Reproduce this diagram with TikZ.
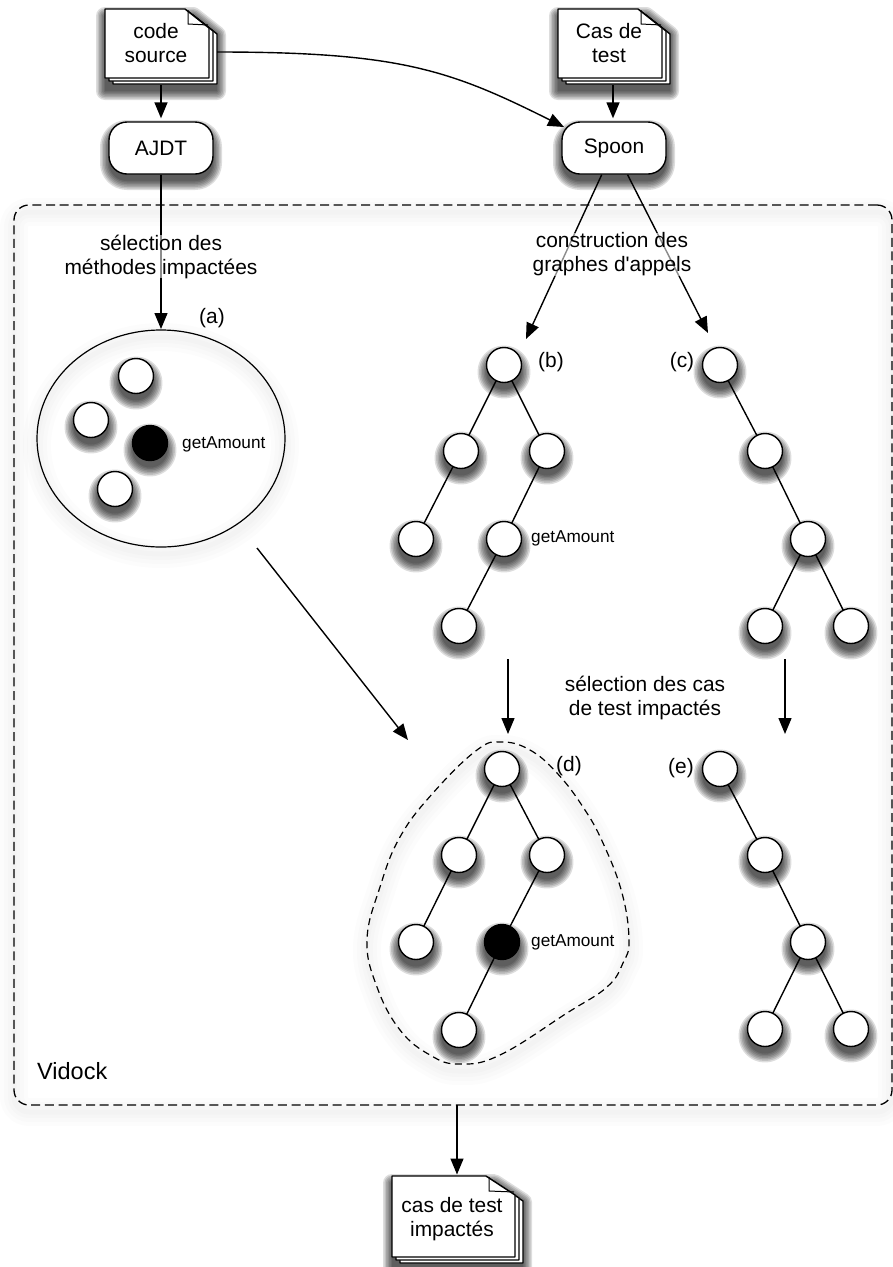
\documentclass[tikz,border=0pt]{standalone}
\usepackage{fontspec}
\setmainfont[Ligatures=TeXOff]{Liberation Sans}
\usetikzlibrary{arrows.meta,shapes.geometric,calc}
\newcommand\softshadow[1]{%
  \foreach \w in {18,15,12,9,6,3,0.1}{%
    \begin{scope}[transparency group,opacity=.135,shift={(0,7)}]
      \path[fill=black,draw=black,line width=\w pt,line join=round] #1;
    \end{scope}}}
\newcommand\strokeshadow[1]{%
  \foreach \w in {28,20,12,5}{%
    \begin{scope}[transparency group,opacity=.012,shift={(0,7)}]
      \path[draw=black,line width=\w pt,line join=round] #1;
    \end{scope}}}
% left, top, width, height, fold dx
\newcommand\docsheet[5]{%
  \path[sheet] (#1,#2) -- ({#1+#3-#5},#2) -- ({#1+#3},{#2+19}) -- ({#1+#3},{#2+#4}) -- (#1,{#2+#4}) -- cycle;}
\newcommand\docstack[5]{%
  \softshadow{(#1,#2) -- ({#1+#3+8-#5},#2) -- ({#1+#3+8},{#2+19}) -- ({#1+#3+8},{#2+#4+6}) -- (#1,{#2+#4+6}) -- cycle}
  \docsheet{#1+8}{#2+6}{#3}{#4}{#5}
  \docsheet{#1+4}{#2+3}{#3}{#4}{#5}
  \docsheet{#1}{#2}{#3}{#4}{#5}
  \draw[thinline] ({#1+#3-#5+3},{#2+1}) -- ({#1+#3-#5+3},{#2+15}) -- ({#1+#3-1},{#2+16});}
\tikzset{
  x=1pt,y=-1pt,
  sheet/.style={draw=black,fill=white,line width=1.4pt,line join=round},
  thinline/.style={draw=black,line width=1pt,line join=round},
  conn/.style={draw=black,line width=1.4pt},
  arrowline/.style={conn,-{Triangle[length=16pt,width=13pt]}},
  docbox/.style={inner sep=0pt,outer sep=0pt,minimum width=112pt,minimum height=76pt},
  lbl/.style={inner sep=1pt,font=\fontsize{20.9}{24}\selectfont,align=center,text=black,yshift=-1.5pt},
  overlbl/.style={lbl,fill=white,fill opacity=.55,text opacity=1,inner ysep=0pt},
  small/.style={inner sep=0pt,font=\fontsize{17.2}{20}\selectfont,text=black,anchor=west,yshift=-1.5pt},
  tool/.style={draw=black,fill=white,line width=1.4pt,rounded corners=18pt,minimum width=104pt,minimum height=52pt,inner sep=0pt,font=\fontsize{20.9}{24}\selectfont},
  circ/.style={circle,draw=black,fill=white,line width=1.4pt,minimum size=35pt,inner sep=0pt,outer sep=0pt},
  blk/.style={circ,fill=black},
  region/.style={draw=black,line width=1.3pt,dash pattern=on 9pt off 4.7pt,rounded corners=15pt},
}
\begin{document}
\begin{tikzpicture}
\useasboundingbox (0,0) rectangle (892,1267);
% faint shadows of outlines
\strokeshadow{[rounded corners=15pt] (14,205) rectangle (892,1105)}
\strokeshadow{(161,438.5) ellipse [x radius=124pt,y radius=108.5pt]}
\def\blobpath{plot[smooth cycle,tension=.7] coordinates {(502,742) (530,750) (557,773) (583,807) (603,843) (622,893) (629,940) (623,963) (607,987) (567,1013) (500,1055) (459,1064) (430,1055) (400,1030) (377,987) (367,940) (380,887) (400,837) (433,793) (477,750)}}
\strokeshadow{\blobpath}
% region
\node[region,minimum width=878pt,minimum height=900pt,inner sep=0pt,outer sep=0pt] (vidock) at (453,655) {};
\node[lbl,font=\fontsize{23.5}{26}\selectfont,anchor=west,inner sep=0pt] (vidocklbl) at (37,1070) {Vidock};
% blob and ellipse
\node[draw=black,line width=1.2pt,ellipse,minimum width=248pt,minimum height=217pt,inner sep=0pt,outer sep=0pt] (ell) at (161,438.5) {};
\draw[draw=black,line width=1.2pt,dash pattern=on 7pt off 4.6pt] \blobpath;
% documents
\docstack{105}{9}{104}{69}{24}
\docstack{558}{9}{104}{69}{24}
\docstack{392}{1176}{123}{81}{29}
\node[docbox] (doc1) at (161,47) {};
\node[docbox] (doc2) at (613,47) {};
\node[docbox,minimum width=131pt,minimum height=87pt] (doc3) at (457,1220) {};
\node[lbl] (doc1t) at (156,41.5) {code\\source};
\node[lbl] (doc2t) at (609,41.5) {Cas de\\test};
\node[lbl] (doc3t) at (452,1218) {cas de test\\impactés};
% tools
\softshadow{[rounded corners=18pt] (109,122) rectangle (213,174)}
\softshadow{[rounded corners=18pt] (562,122) rectangle (666,174)}
\node[tool] (ajdt) at (161,148) {AJDT};
\node[tool] (spoon) at (614,148) {Spoon};
% circle shadows
\foreach \x/\y in {136/376,91/420,150/443,115/489,
  504/365,461/451,547/451,416/539,504/539,459/626,
  720/365,765/451,808/539,765/626,851/626,
  502/769,459/855,547/855,416/942,502/942,459/1030,
  720/769,765/855,808/942,765/1029,851/1029}{
  \softshadow{(\x,\y) circle[radius=17.5pt]}
}
% circle nodes
\foreach \n/\x/\y in {a1/136/376,a2/91/420,a4/115/489,
  b1/504/365,b2/461/451,b3/547/451,b4/416/539,b5/504/539,b6/459/626,
  c1/720/365,c2/765/451,c3/808/539,c4/765/626,c5/851/626,
  d1/502/769,d2/459/855,d3/547/855,d4/416/942,d6/459/1030,
  e1/720/769,e2/765/855,e3/808/942,e4/765/1029,e5/851/1029}{
  \node[circ] (\n) at (\x,\y) {};
}
\node[blk] (a3) at (150,443) {};
\node[blk] (d5) at (502,942) {};
% tree edges
\foreach \p/\q in {b1/b2,b1/b3,b2/b4,b3/b5,b5/b6,
  c1/c2,c2/c3,c3/c4,c3/c5,
  d1/d2,d1/d3,d2/d4,d3/d5,d5/d6,
  e1/e2,e2/e3,e3/e4,e3/e5}{
  \draw[conn] (\p) -- (\q);
}
% free ends
\coordinate (tipb) at (526,339);
\coordinate (tipc) at (708,333);
\coordinate (bigstart) at (257,548);
\coordinate (bigtip) at (408,740);
\coordinate (bstart) at (508,659);
\coordinate (btip) at (508,734);
\coordinate (cstart) at (785,659);
\coordinate (ctip) at (785,734);
\coordinate (spoontip) at (564,127);
% connectors
\draw[arrowline] (doc1.south) -- ([yshift=3pt]ajdt.north);
\draw[arrowline] (doc2.south) -- ([yshift=3pt]doc2.south |- spoon.north);
\draw[arrowline] ([yshift=-5pt]doc1.east) .. controls (400,52) and (450,70) .. (spoontip);
\draw[arrowline] (ajdt.south) -- ([yshift=1pt]ell.north);
\draw[arrowline] (spoon) -- (tipb);
\draw[arrowline] (spoon) -- (tipc);
\draw[arrowline] (bigstart) -- (bigtip);
\draw[arrowline] (bstart) -- (btip);
\draw[arrowline] (cstart) -- (ctip);
\draw[arrowline] (vidock.south -| doc3.north) -- ([yshift=2pt]doc3.north);
% labels
\node[overlbl] (l1) at (161,255) {sélection des\\méthodes impactées};
\node[overlbl] (l2) at (612,253) {construction des\\graphes d'appels};
\node[lbl] (l3) at (645,696.5) {sélection des cas\\de test impactés};
\node[lbl] (la) at (212,317) {(a)};
\node[lbl] (lb) at (551,361) {(b)};
\node[lbl] (lc) at (682,361) {(c)};
\node[lbl] (ld) at (569,765) {(d)};
\node[lbl] (le) at (681,767) {(e)};
\node[small] (g1) at (182,443) {getAmount};
\node[small] (g2) at (531,537) {getAmount};
\node[small] (g3) at (531,941) {getAmount};
\end{tikzpicture}
\end{document}
